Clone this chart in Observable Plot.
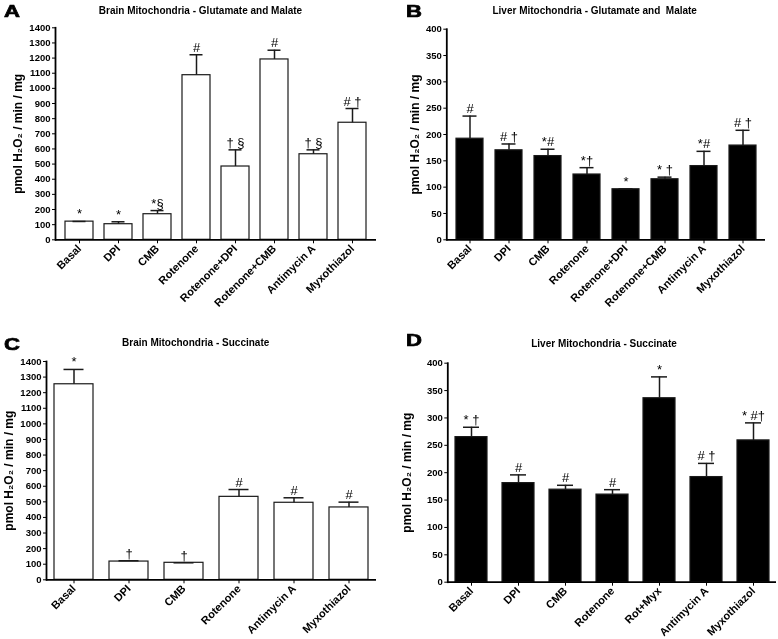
<!DOCTYPE html>
<html>
<head>
<meta charset="utf-8">
<script src="https://cdn.jsdelivr.net/npm/d3@7"></script>
<script src="https://cdn.jsdelivr.net/npm/@observablehq/plot@0.6"></script>
<style>
  html, body { margin: 0; padding: 0; background: #fff; }
  #wrap { position: relative; width: 778px; height: 639px; background: #fff; overflow: hidden;
          font-family: 'Liberation Sans', Arial, sans-serif; color: #000; filter: grayscale(1); }
  .panel { position: absolute; }
  .title { position: absolute; transform: translate(-50%, -50%); font-size: 10px; font-weight: bold; white-space: pre; }
  .letter { position: absolute; font-size: 17px; font-weight: bold; line-height: 1; transform-origin: left top;
            transform: scaleX(1.3); -webkit-text-stroke: 0.7px #000; }
</style>
</head>
<body>
<div id="wrap"></div>
<script>
// ---------- data ----------
const yLabel = "pmol H\u2082O\u2082 / min / mg";

const catsA = ["Basal", "DPI", "CMB", "Rotenone", "Rotenone+DPI", "Rotenone+CMB", "Antimycin A", "Myxothiazol"];
const meanA = [120, 103, 169, 1087, 484, 1191, 565, 773];
const semA  = [1, 16, 24, 135, 110, 61, 29, 94];
const sigA  = ["*", "*", "*\u00a7", "#", "\u2020 \u00a7", "#", "\u2020 \u00a7", "# \u2020"];

const catsB = ["Basal", "DPI", "CMB", "Rotenone", "Rotenone+DPI", "Rotenone+CMB", "Antimycin A", "Myxothiazol"];
const meanB = [192, 170, 159, 124, 96, 115, 140, 179];
const semB  = [43, 12, 13, 13, 1, 4, 28, 29];
const sigB  = ["#", "# \u2020", "*#", "*\u2020", "*", "* \u2020", "*#", "# \u2020"];

const catsC = ["Basal", "DPI", "CMB", "Rotenone", "Antimycin A", "Myxothiazol"];
const meanC = [1254, 117, 109, 532, 494, 464];
const semC  = [95, 5, 0, 47, 32, 34];
const sigC  = ["*", "\u2020", "\u2020", "#", "#", "#"];

const catsD = ["Basal", "DPI", "CMB", "Rotenone", "Rot+Myx", "Antimycin A", "Myxothiazol"];
const meanD = [265, 181, 169, 160, 336, 192, 259];
const semD  = [18, 15, 8, 9, 39, 25, 32];
const sigD  = ["* \u2020", "#", "#", "#", "*", "# \u2020", "* #\u2020"];

const titles = ["Brain Mitochondria - Glutamate and Malate", "Liver Mitochondria - Glutamate and  Malate",
                "Brain Mitochondria - Succinate", "Liver Mitochondria - Succinate"];
const letters = ["A", "B", "C", "D"];

// ---------- drawing ----------
function panel(o) {
  const rows = o.cats.map((c, i) => ({cat: c, mean: o.mean[i], top: o.mean[i] + o.sem[i], sig: o.sig[i]}));
  return Plot.plot({
    width: o.width, height: o.height,
    marginLeft: o.ml, marginRight: o.mr, marginTop: o.mt, marginBottom: o.mb,
    style: {fontFamily: "'Liberation Sans', Arial, sans-serif", fontWeight: "bold", fontSize: "9.5px", color: "#000", background: "transparent", overflow: "visible"},
    x: {domain: o.cats, paddingInner: o.pi, paddingOuter: o.po, label: null, axis: null},
    y: {domain: [0, o.yMax], label: null, axis: null},
    marks: [
      Plot.barY(rows, {x: "cat", y: "mean", fill: o.fill, stroke: "#1a1a1a", strokeWidth: 1.2}),
      Plot.ruleX(rows, {x: "cat", y1: "mean", y2: "top", stroke: "#1a1a1a", strokeWidth: 1.5}),
      Plot.tickY(rows, {x: "cat", y: "top", stroke: "#1a1a1a", strokeWidth: 1.5, insetLeft: o.cap, insetRight: o.cap}),
      Plot.text(rows, {x: "cat", y: "top", text: "sig", dy: -3, lineAnchor: "bottom", fontSize: 13, fontWeight: "normal"}),
      Plot.axisY({ticks: d3.range(0, o.yMax + 1, o.yStep), tickFormat: d => String(d), tickSize: 3, tickPadding: 2, fontSize: 9.5, fontWeight: "bold", label: null}),
      Plot.axisX({tickRotate: -45, tickSize: 4, tickPadding: 3, fontSize: 11, fontWeight: "bold", label: null}),
      Plot.ruleY([0], {stroke: "#000", strokeWidth: 1.8}),
      Plot.frame({anchor: "left", stroke: "#000", strokeWidth: 1.8}),
      Plot.text([yLabel], {frameAnchor: "left", rotate: -90, dx: o.labelDx, fontSize: 12, fontWeight: "bold", textAnchor: "middle", lineAnchor: "middle"})
    ]
  });
}

const wrap = document.getElementById("wrap");
const configs = [
  {left: 0, top: 0, width: 389, height: 320, ml: 55, mr: 13, mt: 27.3, mb: 80.7, pi: 0.29, po: 0.19, cap: 7.5, labelDx: -37,
   cats: catsA, mean: meanA, sem: semA, sig: sigA, fill: "#fff", yMax: 1400, yStep: 100},
  {left: 389, top: 0, width: 389, height: 320, ml: 57.3, mr: 13, mt: 28.7, mb: 80.7, pi: 0.31, po: 0.16, cap: 6.5, labelDx: -31.6,
   cats: catsB, mean: meanB, sem: semB, sig: sigB, fill: "#000", yMax: 400, yStep: 50},
  {left: 0, top: 320, width: 389, height: 319, ml: 46, mr: 13, mt: 41, mb: 59.7, pi: 0.3, po: 0.145, cap: 9.5, labelDx: -37.4,
   cats: catsC, mean: meanC, sem: semC, sig: sigC, fill: "#fff", yMax: 1400, yStep: 100},
  {left: 389, top: 320, width: 389, height: 319, ml: 58.3, mr: 2, mt: 42.7, mb: 57.3, pi: 0.32, po: 0.15, cap: 8, labelDx: -41,
   cats: catsD, mean: meanD, sem: semD, sig: sigD, fill: "#000", yMax: 400, yStep: 50}
];
configs.forEach(cfg => {
  const d = document.createElement("div");
  d.className = "panel";
  d.style.left = cfg.left + "px";
  d.style.top = cfg.top + "px";
  d.appendChild(panel(cfg));
  wrap.appendChild(d);
});

const titlePos = [[200.5, 10], [594.7, 10], [195.7, 342], [604, 343]];
const letterPos = [[4, 3], [406, 3], [4, 336], [406, 332]];
titles.forEach((t, i) => {
  const el = document.createElement("div");
  el.className = "title";
  el.textContent = t;
  el.style.left = titlePos[i][0] + "px";
  el.style.top = titlePos[i][1] + "px";
  wrap.appendChild(el);
  const L = document.createElement("div");
  L.className = "letter";
  L.textContent = letters[i];
  L.style.left = letterPos[i][0] + "px";
  L.style.top = letterPos[i][1] + "px";
  wrap.appendChild(L);
});
</script>
</body>
</html>
